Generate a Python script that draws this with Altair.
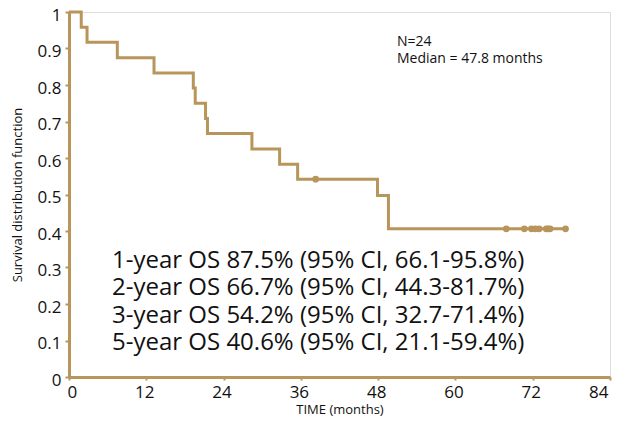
import altair as alt
import pandas as pd

# Kaplan-Meier step curve (time in months, survival)
step_times = [0, 1.9, 2.8, 7.5, 13.2, 19.3, 19.6, 21.2, 21.5, 28.4, 32.7, 35.5, 47.9, 49.6, 77.1]
step_surv = [1.0, 0.958, 0.917, 0.875, 0.833, 0.792, 0.75, 0.708, 0.667, 0.625, 0.583, 0.542, 0.497, 0.406, 0.406]

# censored observations
censor_times = [38.3, 67.9, 70.7, 71.8, 72.4, 73.0, 74.1, 74.4, 74.7, 77.1]
censor_surv = [0.542, 0.406, 0.406, 0.406, 0.406, 0.406, 0.406, 0.406, 0.406, 0.406]

os_lines = [
    "1-year OS 87.5% (95% CI, 66.1-95.8%)",
    "2-year OS 66.7% (95% CI, 44.3-81.7%)",
    "3-year OS 54.2% (95% CI, 32.7-71.4%)",
    "5-year OS 40.6% (95% CI, 21.1-59.4%)",
]
info_lines = ["N=24", "Median = 47.8 months"]

x_ticks = [0, 12, 24, 36, 48, 60, 72, 84]
y_ticks = [0, 0.1, 0.2, 0.3, 0.4, 0.5, 0.6, 0.7, 0.8, 0.9, 1.0]

COLOR = "#B8955A"
FONT = "Open Sans"

curve = pd.DataFrame({"t": step_times, "s": step_surv})
cens = pd.DataFrame({"t": censor_times, "s": censor_surv})

xscale = alt.Scale(domain=[0, 84], nice=False, zero=False)
yscale = alt.Scale(domain=[0, 1], nice=False)

xaxis = alt.Axis(values=x_ticks, title="TIME (months)", labelFontSize=17, titleFontSize=13,
                 titleFontWeight="normal", labelFont=FONT, titleFont=FONT, grid=False,
                 domainColor=COLOR, domainWidth=3, tickColor=COLOR, tickWidth=2, tickSize=3,
                 labelPadding=4, titlePadding=3, labelColor="#111", titleColor="#111",
                 labelOverlap=False, labelOffset=-2)
yaxis = alt.Axis(values=y_ticks, title="Survival distribution function", labelFontSize=17,
                 titleFontSize=13, titleFontWeight="normal", labelFont=FONT, titleFont=FONT,
                 grid=False, domainColor=COLOR, domainWidth=3, tickColor=COLOR, tickWidth=2,
                 tickSize=4, labelPadding=4, titlePadding=13, labelColor="#111", titleColor="#111",
                 labelExpr="format(datum.value, '~g')", labelOverlap=False, labelOffset=3)

line = alt.Chart(curve).mark_line(interpolate="step-after", color=COLOR, strokeWidth=3).encode(
    x=alt.X("t:Q", scale=xscale, axis=xaxis),
    y=alt.Y("s:Q", scale=yscale, axis=yaxis),
)

pts = alt.Chart(cens).mark_circle(color=COLOR, size=45, opacity=1).encode(
    x=alt.X("t:Q", scale=xscale, axis=xaxis),
    y=alt.Y("s:Q", scale=yscale, axis=yaxis),
)

layers = [line, pts]
os_baselines = [256, 283, 311, 338]
for txt, yb in zip(os_lines, os_baselines):
    layers.append(
        alt.Chart(pd.DataFrame({"txt": [txt]})).mark_text(
            align="left", baseline="alphabetic", fontSize=24, font=FONT, color="#111"
        ).encode(x=alt.value(43), y=alt.value(yb), text="txt:N")
    )
info_baselines = [34, 51]
for txt, yb in zip(info_lines, info_baselines):
    layers.append(
        alt.Chart(pd.DataFrame({"txt": [txt]})).mark_text(
            align="left", baseline="alphabetic", fontSize=14, font=FONT, color="#111"
        ).encode(x=alt.value(328), y=alt.value(yb), text="txt:N")
    )

chart = alt.layer(*layers).properties(
    width=541, height=365,
    autosize=alt.AutoSizeParams(type="none"),
    padding={"left": 61, "top": 4, "right": 4, "bottom": 55},
).configure_view(strokeWidth=0, stroke="transparent").configure(background="white")

chart.save("out.html", embed_options={"renderer": "svg", "actions": False})
